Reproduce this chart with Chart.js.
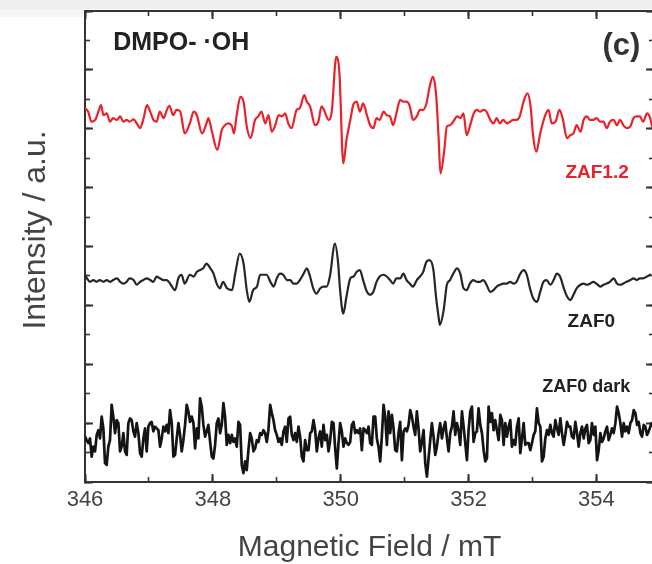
<!DOCTYPE html>
<html><head><meta charset="utf-8">
<script src="https://cdn.jsdelivr.net/npm/chart.js@4.4.1/dist/chart.umd.min.js"></script>
<style>
html,body{margin:0;padding:0;background:#fff;overflow:hidden;width:652px;height:564px;}
#band{position:absolute;left:0;top:0;width:652px;height:9px;background:#eeeeee;}
#band2{position:absolute;left:0;top:9px;width:84px;height:8px;background:#f6f6f6;}
#wrap{position:absolute;left:0;top:0;width:660px;height:564px;}
</style></head><body>
<div id="band"></div><div id="band2"></div>
<div id="wrap"><canvas id="c" width="660" height="564"></canvas></div>
<script>
// ---- data (field in mT, intensity in a.u., traces offset as in the figure) ----
const xTickLabels = [346, 348, 350, 352, 354];

const redField = [346.00,346.05,346.10,346.16,346.21,346.25,346.29,346.34,346.39,346.44,346.50,346.55,346.60,346.65,346.70,346.76,346.81,346.86,346.91,346.97,347.02,347.07,347.12,347.17,347.23,347.28,347.32,347.38,347.43,347.49,347.56,347.64,347.70,347.75,347.83,347.90,347.93,347.98,348.07,348.14,348.19,348.24,348.30,348.33,348.37,348.43,348.48,348.53,348.59,348.66,348.71,348.76,348.82,348.87,348.92,348.97,349.03,349.08,349.13,349.18,349.23,349.31,349.36,349.43,349.47,349.52,349.60,349.65,349.70,349.75,349.81,349.86,349.93,349.98,350.04,350.09,350.15,350.20,350.25,350.30,350.35,350.41,350.46,350.51,350.56,350.61,350.67,350.72,350.77,350.82,350.87,350.93,350.98,351.03,351.08,351.13,351.19,351.24,351.29,351.34,351.39,351.44,351.49,351.53,351.56,351.62,351.66,351.71,351.76,351.82,351.87,351.92,351.97,352.02,352.08,352.13,352.18,352.23,352.28,352.34,352.39,352.44,352.49,352.54,352.60,352.65,352.70,352.75,352.80,352.86,352.92,352.97,353.01,353.06,353.12,353.20,353.25,353.30,353.36,353.42,353.47,353.54,353.59,353.64,353.69,353.75,353.80,353.85,353.90,353.95,354.00,354.06,354.11,354.16,354.21,354.27,354.32,354.37,354.42,354.47,354.53,354.58,354.63,354.68,354.73,354.79,354.84,354.87];
const redIntensity = [6.35,6.29,6.12,6.15,6.29,6.40,6.23,6.26,6.12,6.18,6.15,6.21,6.12,6.15,6.12,6.16,6.09,6.01,6.15,6.40,6.29,6.15,6.12,6.29,6.18,6.32,6.39,6.23,6.32,6.29,5.92,6.09,6.29,6.23,5.92,6.09,6.18,5.98,5.64,5.98,6.06,6.09,6.04,5.92,6.21,6.54,6.46,6.04,5.84,6.15,6.21,6.29,6.09,6.23,5.95,6.04,6.23,6.21,6.26,6.09,6.01,6.32,6.35,6.57,6.46,6.38,6.06,6.12,6.38,6.29,6.15,6.29,7.22,6.94,5.41,5.81,6.15,6.42,6.46,6.29,6.43,6.23,6.06,6.01,6.18,6.15,6.29,6.23,6.21,6.06,6.26,6.49,6.46,6.46,6.38,6.15,6.21,6.32,6.32,6.43,6.71,6.88,6.60,5.87,5.24,5.64,6.04,6.06,6.12,6.21,6.18,6.26,5.89,6.04,6.26,6.32,6.29,6.32,6.29,6.15,6.09,6.18,6.09,6.15,6.09,6.12,6.15,6.15,6.21,6.46,6.60,6.38,5.87,5.61,5.92,6.23,6.32,6.09,6.12,6.32,6.18,5.84,5.89,5.92,6.06,5.95,6.15,6.21,6.15,6.15,6.18,6.12,6.12,6.01,6.12,6.15,6.06,6.15,6.06,6.01,6.04,6.18,6.21,6.21,6.12,6.26,6.18,6.04];

const blackField = [346.00,346.03,346.08,346.13,346.18,346.23,346.29,346.34,346.39,346.44,346.50,346.55,346.60,346.65,346.70,346.76,346.81,346.86,346.91,346.97,347.02,347.07,347.12,347.17,347.23,347.28,347.33,347.41,347.46,347.51,347.56,347.64,347.70,347.75,347.80,347.85,347.90,347.96,348.01,348.06,348.11,348.16,348.22,348.30,348.35,348.42,348.48,348.53,348.57,348.63,348.69,348.74,348.79,348.84,348.90,348.95,349.00,349.05,349.10,349.16,349.21,349.26,349.31,349.36,349.42,349.47,349.52,349.57,349.62,349.68,349.73,349.78,349.83,349.91,349.96,349.99,350.04,350.09,350.15,350.20,350.25,350.30,350.35,350.41,350.46,350.51,350.56,350.61,350.67,350.72,350.77,350.82,350.87,350.93,350.98,351.03,351.08,351.13,351.19,351.24,351.29,351.34,351.39,351.45,351.49,351.53,351.55,351.61,351.66,351.71,351.76,351.82,351.87,351.92,351.97,352.02,352.07,352.13,352.18,352.23,352.28,352.34,352.39,352.44,352.49,352.54,352.60,352.65,352.70,352.75,352.80,352.86,352.91,352.96,353.01,353.07,353.12,353.17,353.22,353.28,353.33,353.38,353.43,353.49,353.54,353.59,353.64,353.69,353.75,353.80,353.85,353.90,353.95,354.00,354.06,354.11,354.16,354.21,354.27,354.32,354.37,354.42,354.47,354.53,354.58,354.63,354.68,354.73,354.79,354.84];
const blackIntensity = [3.52,3.46,3.40,3.43,3.40,3.43,3.40,3.43,3.40,3.43,3.46,3.40,3.37,3.40,3.46,3.43,3.35,3.40,3.43,3.46,3.43,3.40,3.49,3.46,3.43,3.43,3.37,3.26,3.46,3.52,3.37,3.52,3.49,3.57,3.60,3.63,3.71,3.63,3.54,3.37,3.29,3.40,3.29,3.26,3.54,3.88,3.71,3.26,3.06,3.26,3.32,3.52,3.52,3.52,3.40,3.32,3.46,3.54,3.52,3.43,3.43,3.37,3.37,3.43,3.54,3.63,3.49,3.29,3.20,3.29,3.32,3.32,3.49,4.05,3.71,3.26,2.86,3.15,3.46,3.49,3.57,3.60,3.43,3.23,3.18,3.23,3.40,3.49,3.52,3.49,3.43,3.37,3.46,3.46,3.54,3.43,3.37,3.32,3.43,3.49,3.57,3.74,3.77,3.60,3.15,2.81,2.67,2.92,3.35,3.43,3.54,3.63,3.54,3.29,3.26,3.37,3.43,3.40,3.40,3.43,3.35,3.23,3.26,3.32,3.35,3.37,3.37,3.40,3.37,3.40,3.52,3.60,3.52,3.29,3.12,3.06,3.23,3.40,3.43,3.35,3.43,3.54,3.49,3.29,3.15,3.09,3.18,3.29,3.35,3.37,3.35,3.37,3.40,3.37,3.32,3.35,3.37,3.40,3.46,3.37,3.35,3.37,3.40,3.43,3.46,3.43,3.46,3.46,3.49,3.52];

const darkField = [346.000,346.026,346.052,346.078,346.104,346.130,346.157,346.183,346.209,346.235,
346.261,346.287,346.313,346.339,346.365,346.391,346.417,346.443,346.470,346.496,
346.522,346.548,346.574,346.600,346.626,346.652,346.678,346.704,346.730,346.757,
346.782,346.809,346.835,346.861,346.887,346.913,346.939,346.965,346.991,347.017,
347.043,347.069,347.096,347.122,347.148,347.174,347.200,347.226,347.252,347.278,
347.304,347.330,347.357,347.383,347.409,347.435,347.461,347.487,347.513,347.539,
347.565,347.591,347.617,347.643,347.670,347.696,347.722,347.748,347.774,347.800,
347.826,347.852,347.878,347.904,347.930,347.957,347.983,348.009,348.035,348.061,
348.087,348.113,348.139,348.165,348.191,348.217,348.243,348.270,348.296,348.322,
348.348,348.374,348.400,348.426,348.452,348.478,348.504,348.530,348.556,348.583,
348.608,348.635,348.661,348.687,348.713,348.739,348.765,348.791,348.817,348.843,
348.869,348.896,348.922,348.948,348.974,349.000,349.026,349.052,349.078,349.104,
349.130,349.156,349.183,349.209,349.235,349.261,349.287,349.313,349.339,349.365,
349.391,349.417,349.443,349.470,349.496,349.522,349.548,349.574,349.600,349.626,
349.652,349.678,349.704,349.730,349.757,349.783,349.809,349.835,349.861,349.887,
349.913,349.939,349.965,349.991,350.017,350.043,350.069,350.096,350.122,
350.148,350.174,350.200,350.226,350.252,350.278,350.304,350.330,350.357,350.383,
350.409,350.435,350.461,350.487,350.513,350.539,350.565,350.591,350.617,350.643,
350.670,350.696,350.722,350.748,350.774,350.800,350.826,350.852,350.878,350.904,
350.930,350.957,350.983,351.009,351.035,351.061,351.087,351.113,351.139,351.165,
351.191,351.217,351.243,351.270,351.296,351.322,351.348,351.374,351.400,351.426,
351.452,351.478,351.504,351.530,351.556,351.583,351.609,351.635,351.661,351.687,
351.713,351.739,351.765,351.791,351.817,351.843,351.869,351.896,351.922,351.948,
351.974,352.000,352.026,352.052,352.078,352.104,352.130,352.156,352.183,352.209,
352.235,352.261,352.287,352.313,352.339,352.365,352.391,352.417,352.443,352.470,
352.496,352.522,352.548,352.574,352.600,352.626,352.652,352.678,352.704,352.730,
352.756,352.783,352.809,352.835,352.861,352.887,352.913,352.939,352.965,352.991,
353.017,353.043,353.069,353.096,353.122,353.148,353.174,353.200,353.226,353.252,
353.278,353.304,353.330,353.357,353.383,353.409,353.435,353.461,353.487,353.513,
353.539,353.565,353.591,353.617,353.643,353.670,353.696,353.722,353.748,353.774,
353.800,353.826,353.852,353.878,353.904,353.930,353.957,353.983,354.009,354.035,
354.061,354.087,354.113,354.139,354.165,354.191,354.217,354.243,354.270,354.296,
354.322,354.348,354.374,354.400,354.426,354.452,354.478,354.504,354.530,354.556,
354.583,354.609,354.635,354.661,354.687,354.713,354.739,354.765,354.791,354.817,
354.843,354.869];
const darkIntensity = [0.77,0.71,0.66,0.74,0.43,0.60,0.52,0.80,0.88,0.74,
1.11,0.91,0.32,0.29,0.60,0.71,1.31,1.11,0.83,1.05,
1.00,0.52,0.60,0.83,0.52,0.46,1.00,1.08,1.05,0.86,
0.77,1.00,0.83,0.49,0.43,0.74,0.91,0.52,0.94,1.00,
1.02,0.86,0.94,0.91,0.88,0.60,0.74,0.94,0.86,0.97,
0.83,1.22,1.00,0.43,0.46,0.74,1.00,0.80,0.52,0.71,
0.97,1.31,1.20,1.02,1.11,1.00,0.57,0.91,0.74,1.42,
1.28,0.97,0.77,0.86,0.97,0.68,0.43,0.40,0.63,1.00,
1.08,0.83,0.97,1.34,1.11,0.63,0.80,0.66,0.80,0.68,
0.74,0.60,1.02,0.97,0.29,0.15,0.35,0.20,0.54,0.83,
0.74,0.52,0.57,0.71,0.68,0.83,0.80,0.88,0.83,0.68,
0.88,1.31,1.17,1.05,0.88,0.80,0.68,0.74,0.63,0.86,
0.94,0.68,1.08,1.11,0.80,0.71,0.83,0.68,0.94,0.77,
0.43,0.35,0.71,0.54,0.54,0.83,0.86,1.05,0.88,0.52,
0.74,0.86,0.60,0.97,0.71,0.80,0.52,0.71,1.02,1.00,
0.57,0.23,0.66,1.00,0.86,0.60,0.74,0.66,0.63,
0.68,0.97,1.02,0.83,0.88,0.83,0.91,0.54,0.91,0.88,
0.83,0.94,0.66,0.63,1.11,1.11,0.74,0.60,0.35,0.77,
1.31,1.11,0.63,1.20,0.83,1.14,0.91,0.54,0.52,0.83,
1.02,0.37,0.86,0.91,0.86,0.97,1.22,1.11,0.94,0.80,
1.20,0.91,0.52,0.68,0.88,0.32,0.09,0.40,0.71,1.00,
0.77,0.46,0.60,0.83,1.00,0.74,0.91,1.02,0.74,0.52,
0.83,0.94,1.20,0.80,1.00,0.88,0.63,1.20,0.94,0.66,
0.37,0.88,1.20,1.28,0.68,0.83,0.86,1.25,0.97,0.83,
0.54,0.35,0.40,1.28,1.02,1.17,0.88,1.05,0.88,0.71,
1.14,1.05,0.63,1.00,0.77,0.94,1.05,0.60,0.71,0.63,
0.94,1.08,0.49,0.74,1.00,0.63,0.66,0.66,0.54,0.66,
0.80,0.86,1.25,1.00,0.94,0.35,0.43,0.74,0.88,0.80,
0.97,0.83,0.77,1.05,0.91,0.80,1.08,0.83,0.63,0.80,
1.02,0.94,0.94,0.77,0.74,1.02,0.83,0.60,0.83,0.94,
0.74,0.91,0.97,0.66,0.71,1.00,0.80,0.94,0.37,0.54,
0.83,0.68,0.74,0.86,0.94,0.71,0.80,0.91,0.83,1.00,
1.28,1.17,1.00,0.77,1.00,0.86,0.94,0.83,1.00,1.05,
1.22,1.17,0.97,1.02,0.83,0.77,0.97,0.94,0.80,0.86,
0.94,1.00];

// ---- texts ----
const yAxisTitle = 'Intensity / a.u.';
const xAxisTitle = 'Magnetic Field / mT';
const annotationTexts = ['DMPO- \u00B7OH', '(c)', 'ZAF1.2', 'ZAF0', 'ZAF0 dark'];

// ---- styling / layout (not data) ----
const FONT = "'Liberation Sans', Arial, Helvetica, sans-serif";
const FRAME = '#333333';
const TEXT = '#444444';
const X_MIN = 346, X_MAX = 354.9, Y_MIN = 0, Y_MAX = 8;

const annotationStyle = [
  {field: 346.44, level: 7.46, align: 'left',   size: 25, color: '#222222'},
  {field: 354.39, level: 7.39, align: 'center', size: 31, color: '#333333'},
  {field: 354.01, level: 5.25, align: 'center', size: 19, color: '#e8232b'},
  {field: 353.92, level: 2.72, align: 'center', size: 19, color: '#222222'},
  {field: 353.84, level: 1.61, align: 'center', size: 18, color: '#222222'}
];
const yTitleStyle = {offsetLeft: 49, level: 4.28, size: 32, color: TEXT};

const zip = (xs, ys) => xs.map((x, i) => ({x, y: ys[i]}));

const annotationPlugin = {
  id: 'annotations',
  afterDraw(chart) {
    const {ctx, scales, chartArea} = chart;
    ctx.save();
    annotationTexts.forEach((t, i) => {
      const s = annotationStyle[i];
      ctx.font = 'bold ' + s.size + 'px ' + FONT;
      ctx.fillStyle = s.color;
      ctx.textAlign = s.align;
      ctx.textBaseline = 'middle';
      ctx.fillText(t, scales.x.getPixelForValue(s.field), scales.y.getPixelForValue(s.level));
    });
    // y-axis title (rotated)
    ctx.translate(chartArea.left - yTitleStyle.offsetLeft, scales.y.getPixelForValue(yTitleStyle.level));
    ctx.rotate(-Math.PI / 2);
    ctx.font = yTitleStyle.size + 'px ' + FONT;
    ctx.fillStyle = yTitleStyle.color;
    ctx.textAlign = 'center';
    ctx.textBaseline = 'middle';
    ctx.fillText(yAxisTitle, 0, 0);
    ctx.restore();
  }
};

const zeroFit = s => { if (s.isHorizontal()) s.height = 0; else s.width = 0; };
function tickAxis(position, step, len, width, border, weight) {
  const horiz = position === 'top' || position === 'bottom';
  return {
    type: 'linear', position, weight,
    min: horiz ? X_MIN : Y_MIN, max: horiz ? X_MAX : Y_MAX,
    ticks: {display: false, stepSize: step, includeBounds: false},
    grid: {drawOnChartArea: false, drawTicks: true, tickLength: len, tickWidth: width, tickColor: FRAME},
    border: {display: border, color: FRAME, width: 2},
    afterFit: zeroFit
  };
}

new Chart(document.getElementById('c'), {
  type: 'line',
  data: {
    datasets: [
      {label: 'ZAF0 dark', data: zip(darkField, darkIntensity), borderColor: '#141414', borderWidth: 2.7, tension: 0},
      {label: 'ZAF0', data: zip(blackField, blackIntensity), borderColor: '#262626', borderWidth: 2.2, cubicInterpolationMode: 'monotone'},
      {label: 'ZAF1.2', data: zip(redField, redIntensity), borderColor: '#e8232b', borderWidth: 2.2, cubicInterpolationMode: 'monotone'}
    ]
  },
  options: {
    responsive: false,
    animation: false,
    devicePixelRatio: 1,
    layout: {padding: {top: 11, right: 6, left: 0, bottom: 0}},
    elements: {point: {radius: 0}, line: {borderJoinStyle: 'round', borderCapStyle: 'round'}},
    plugins: {legend: {display: false}, tooltip: {enabled: false}},
    scales: {
      x: {
        type: 'linear', position: 'bottom', weight: 1, min: X_MIN, max: X_MAX,
        ticks: {stepSize: 2, includeBounds: false, autoSkip: false, maxRotation: 0, color: TEXT,
                font: {family: FONT, size: 22}, padding: 13,
                callback: v => xTickLabels.includes(v) ? String(v) : ''},
        grid: {drawOnChartArea: false, drawTicks: true, tickLength: -8, tickWidth: 2, tickColor: FRAME},
        border: {display: true, color: FRAME, width: 2},
        title: {display: true, text: xAxisTitle, color: TEXT,
                font: {family: FONT, size: 30, lineHeight: 1}, padding: {top: 0, bottom: 1}},
        afterFit: s => { s.height = 82; }
      },
      xMinor: tickAxis('bottom', 1, -5, 1.6, false, 0),
      xTop: tickAxis('top', 2, -8, 2, true, 1),
      xTopMinor: tickAxis('top', 1, -5, 1.6, false, 0),
      y: {
        type: 'linear', position: 'left', weight: 1, min: Y_MIN, max: Y_MAX,
        ticks: {display: false, stepSize: 1},
        grid: {drawOnChartArea: false, drawTicks: true, tickLength: -8, tickWidth: 2, tickColor: FRAME},
        border: {display: true, color: FRAME, width: 2},
        title: {display: false},
        afterFit: s => { s.width = 85; }
      },
      yMinor: tickAxis('left', 0.5, -5, 1.6, false, 0),
      yRight: tickAxis('right', 1, -8, 2, true, 1),
      yRightMinor: tickAxis('right', 0.5, -5, 1.6, false, 0)
    }
  },
  plugins: [annotationPlugin]
});
</script>
</body></html>
